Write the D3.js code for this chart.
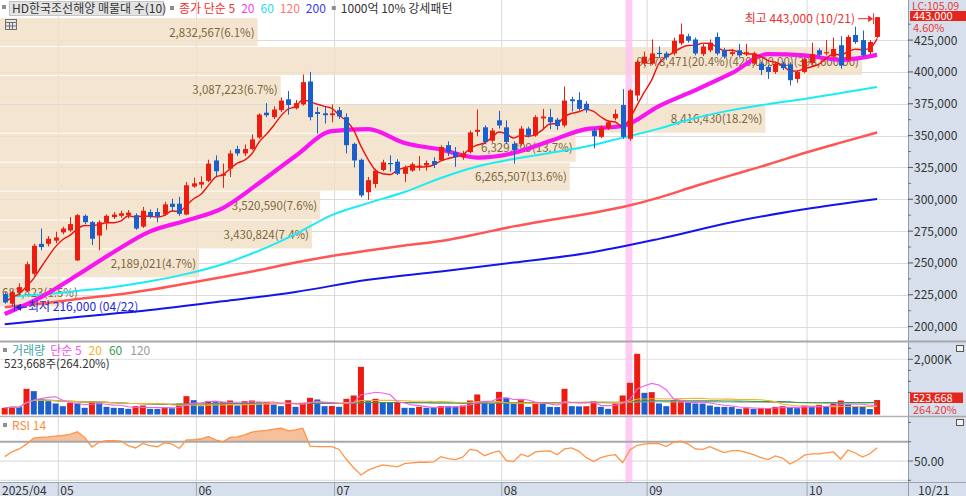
<!DOCTYPE html>
<html>
<head>
<meta charset="utf-8">
<script src="https://cdnjs.cloudflare.com/ajax/libs/d3/7.8.5/d3.min.js"></script>
<style>
  body { margin: 0; background: #fff; }
  svg text { font-family: "Noto Sans CJK KR", "Noto Sans", sans-serif; }
</style>
</head>
<body>
<div class="chart"></div>
<script>
var svgWidth = 966;
var svgHeight = 496;
var axisLeft = 908;   // start of the right-hand value axis

// daily candles, 2025/04/21 .. 2025/10/21 (index 0..120)
var open = [225500,218000,227000,228000,241500,265000,265000,267500,274000,275500,
  252000,287000,282000,271500,282000,286000,287000,287500,287500,278500,
  290000,290000,288000,296500,296500,288000,310000,311500,314500,330500,
  318500,324000,339500,336000,339500,348500,368000,364500,370000,378500,
  371500,374500,392500,368500,367500,366000,370000,364500,343500,331000,
  305500,312000,323000,328500,329500,320000,322500,325000,326500,330000,
  330500,342500,337000,333000,337000,353000,356500,346000,362000,356500,
  343500,343500,355500,350000,363500,364500,362500,358000,378500,378000,
  375000,354000,349000,355500,363500,374000,347500,381500,406500,406500,
  415000,414500,414500,422500,428000,425500,414000,417000,427500,417000,
  414000,417000,414000,406500,406500,404000,400000,406500,406000,394500,
  400000,407000,417000,414500,412000,421000,409500,429000,425000,415500,
  427500];
var high = [227000,228500,234000,251000,265000,277000,271000,274500,278500,286000,
  288500,288000,283000,283500,288000,290000,291000,291500,289000,294000,
  292000,293000,298000,300500,302000,313500,317000,318000,331000,334500,
  328000,338500,342000,343000,351000,367500,375500,373000,380000,385000,
  378000,398000,400000,372500,372500,374500,372500,367500,344500,332000,
  317500,324000,331000,334500,331500,326500,329000,334000,330500,333000,
  342500,345500,341000,338000,354000,370500,358000,356000,369500,362000,
  345500,357500,357000,366000,371000,371000,364000,388500,380500,384000,
  377000,356000,358000,362000,370500,386500,386500,409500,416000,425500,
  420000,416000,427000,438000,430000,427000,422000,425500,431000,419000,
  418000,422000,422000,416000,408000,405500,408000,408000,407500,401500,
  411500,423000,418500,425000,427000,428000,429000,435500,432500,425000,
  443000];
var low = [218000,216000,224500,227000,240000,260000,263000,265500,272500,274500,
  251500,280500,264000,260000,276000,284500,285500,285000,276000,277500,
  285000,282000,287000,290500,287000,287500,309000,308500,313500,318000,
  309000,317500,334000,334000,338500,347500,364500,363000,368500,366500,
  370500,373500,362000,351500,359500,360500,363000,336000,325000,301500,
  299500,309000,322000,321500,319000,313500,321500,322500,322500,324500,
  330000,334000,325500,331000,336000,349500,343500,344500,355500,343500,
  328000,342000,348500,349000,356000,355000,354500,356500,369000,369500,
  368000,340000,348000,354500,362000,347500,346000,377000,405000,405500,
  411000,409500,413000,421000,423000,413000,412500,415500,413000,410500,
  412500,411500,412500,405500,397500,394500,398500,401500,389500,391500,
  399000,405500,411500,413000,410500,402500,408000,422000,412000,414000,
  426500];
var close = [219000,227000,231000,249000,263500,262500,269000,270000,277000,280500,
  287500,282000,269000,282000,287000,288000,289000,289500,277000,291000,
  286500,286500,296000,294000,288500,311000,312500,313500,328000,322000,
  320000,336000,336000,339500,347000,366500,366000,370500,377500,374000,
  375500,392000,364500,367000,366000,367500,365000,342500,330500,303000,
  315000,322500,329000,327500,320000,325000,327500,326500,328500,327000,
  341000,337000,333000,336000,352500,354500,345000,354000,358000,345000,
  338500,355500,350000,364500,365000,360500,357500,377500,377000,371000,
  370000,349500,356500,360500,367000,349000,385500,408000,412000,414500,
  414000,411500,424500,429500,424500,414500,420000,423000,414500,412000,
  415500,413000,415500,414500,401500,400000,406500,403000,393500,400000,
  410000,414000,413500,415500,418000,405000,427500,423500,413000,423500,
  443000];
var volume = [242000,278000,270000,930000,846000,568000,483000,399000,302000,423000,
  399000,242000,483000,447000,278000,242000,235000,205000,302000,326000,
  205000,200000,242000,229000,399000,664000,519000,302000,483000,447000,
  460000,507000,326000,483000,507000,447000,455000,362000,302000,519000,
  278000,423000,604000,544000,302000,310000,278000,568000,689000,1727000,
  483000,568000,423000,420000,425000,242000,240000,278000,242000,240000,
  302000,300000,295000,326000,507000,725000,483000,399000,820000,604000,
  399000,519000,278000,447000,399000,278000,270000,930000,302000,295000,
  300000,483000,278000,205000,399000,689000,1148000,2199000,785000,810000,
  399000,302000,519000,525000,447000,399000,395000,326000,278000,275000,
  270000,205000,229000,205000,229000,232000,278000,302000,242000,229000,
  326000,278000,350000,278000,399000,507000,362000,302000,298000,198209,
  523668];
var rsi14 = [54.5,59.5,62.5,67.5,73.8,74.5,75,75.8,76.5,77.5,
  80.4,74.5,64.5,69.5,71,71,70.7,66,63.5,68.3,
  66,64.8,69,67.6,63,71.8,72,72.8,75.5,72,
  70,74.5,75,77,80,81,81.8,83,83.9,81.3,
  82.3,84,65.5,65,64.8,64.8,62,51.5,43,35.5,
  40.5,43.5,46,45,44,47.2,48,48.7,48.7,49,
  54.5,52.5,51.5,54,62,60.7,55.5,58.5,60.5,50.3,
  49.3,57,54.5,59.4,60.3,60.5,56.5,62.5,63.5,60,
  53.5,49.5,53.5,55.5,56.5,48.2,61.4,66.3,67.5,68.3,
  68,65,69.5,70.5,67.5,62.5,62,64.8,61.5,58.8,
  60.7,60.7,59,56.5,53.5,51.5,55.2,53,46.9,50.5,
  56,57.3,57.3,58.5,59.4,51.8,61.4,58.3,54,57.5,
  63.8];

// longer moving averages, read every 5 (20, 60, 120) or 10 (200) bars
var ma20 = [209900,223200,240500,258600,274800,283300,293100,312800,334000,353500,
  355100,344200,339000,332700,336300,345700,355100,357500,373200,385700,
  399000,414000,413000,409500,413400];
var ma60 = [223400,225200,228000,231100,235600,241400,249000,259700,272700,287600,
  297000,305700,316700,325700,331600,336300,341400,348400,355500,363800,
  370000,374700,378700,383400,388100];
var ma120 = [215200,218100,221700,224800,228900,233800,238900,244400,250300,255400,
  259700,263700,267200,272700,278700,283700,288400,293900,301300,310400,
  319000,327300,336300,344500,352400];
var ma200 = [201800,207500,213000,219900,227200,236800,243300,250300,257600,268900,
  282000,292100,300200];

// volume profile (매물대), top band first
var bandVolume = [2832567,9478471,3087223,8416430,6329899,6265507,3520590,3430824,2189021,683423];
var bandPct = ["6.1","20.4","6.7","18.2","13.7","13.6","7.6","7.4","4.7","1.5"];
var bandRange = "(420,000.00)(398,600.00)";

var monthStart = [0, 8, 27, 46, 69, 89, 111];
var monthLabel = ["2025/04", "05", "06", "07", "08", "09", "10"];
var priceTicks = [200000,225000,250000,275000,300000,325000,350000,375000,400000,425000];
var highlightBar = 86;

var upColor = "#ec1c10", downColor = "#1a5fcc";

var svg = d3.select(".chart")
  .append("svg")
  .attr("width", svgWidth)
  .attr("height", svgHeight);

var x = d3.scaleLinear().domain([0, 120]).range([4.7, 877.1]);
var y = d3.scaleLinear().domain([200000, 425000]).range([326.6, 40.1]);
var yVol = d3.scaleLinear().domain([0, 2000000]).range([414.5, 359.3]);
var yRsi = d3.scaleLinear().domain([30, 70]).range([480.3, 441.7]);

// ---------- grid ----------
var grid = svg.append("g");
monthStart.slice(1).forEach(function(m) {
  grid.append("line")
    .attr("x1", x(m - 0.63)).attr("x2", x(m - 0.63))
    .attr("y1", 0).attr("y2", 482)
    .attr("stroke", "#d9d9d9");
});
priceTicks.forEach(function(t) {
  grid.append("line")
    .attr("x1", 0).attr("x2", axisLeft)
    .attr("y1", Math.round(y(t)) + 0.5).attr("y2", Math.round(y(t)) + 0.5)
    .attr("stroke", "#dadada");
});
grid.append("line").attr("x1", 0).attr("x2", axisLeft).attr("y1", yVol(2000000)).attr("y2", yVol(2000000)).attr("stroke", "#e2e2e2");
[50, 30].forEach(function(v) {
  grid.append("line").attr("x1", 0).attr("x2", axisLeft).attr("y1", yRsi(v)).attr("y2", yRsi(v)).attr("stroke", "#d6d6d6");
});

// ---------- volume profile bands ----------
var pLow = d3.min(low), pHigh = d3.max(high);
var bandStep = (pHigh - pLow) / bandVolume.length;
var bandW = d3.scaleLinear().domain([0, d3.max(bandVolume)]).range([0, 862]);
var bands = svg.append("g");
bandVolume.forEach(function(v, k) {
  var top = y(pHigh - k * bandStep), bot = y(pHigh - (k + 1) * bandStep);
  bands.append("rect")
    .attr("x", 0).attr("y", top + 1)
    .attr("width", bandW(v)).attr("height", bot - top - 1)
    .attr("fill", "#f1dfc6").attr("opacity", 0.82);
});
bandVolume.forEach(function(v, k) {
  var top = y(pHigh - k * bandStep), bot = y(pHigh - (k + 1) * bandStep);
  var label = d3.format(",")(v) + "(" + bandPct[k] + "%)";
  if (v === d3.max(bandVolume)) label += bandRange;
  var t = bands.append("text")
    .attr("y", (top + bot) / 2 + 5)
    .attr("fill", "#7e673f")
    .style("font-size", "11.5px")
    .text(label);
  var len = t.node().getComputedTextLength();
  if (len + 5 > bandW(v)) t.attr("x", 2);
  else t.attr("x", bandW(v) - 3).attr("text-anchor", "end");
});

// highlighted day
svg.append("rect")
  .attr("x", x(highlightBar) - 4.5).attr("y", 0)
  .attr("width", 7).attr("height", 482)
  .attr("fill", "#ffc4f2").attr("opacity", 0.85);

// ---------- moving averages ----------
var ma5 = close.map(function(c, i) { return d3.mean(close.slice(Math.max(0, i - 4), i + 1)); });
var line = d3.line().x(function(d) { return x(d[0]); }).y(function(d) { return y(d[1]); }).curve(d3.curveMonotoneX);
function pts(arr, step) { return arr.map(function(v, k) { return [k * step, v]; }); }

var maG = svg.append("g").attr("fill", "none").attr("stroke-linejoin", "round");
maG.append("path").attr("d", line(pts(ma200, 10))).attr("stroke", "#1414f0").attr("stroke-width", 2);
maG.append("path").attr("d", line(pts(ma120, 5))).attr("stroke", "#ff5555").attr("stroke-width", 2.5);
maG.append("path").attr("d", line(pts(ma60, 5))).attr("stroke", "#19ecf5").attr("stroke-width", 2);
maG.append("path").attr("d", line(pts(ma20, 5))).attr("stroke", "#f716f0").attr("stroke-width", 4.2);
maG.append("path").attr("d", line(pts(ma5, 1))).attr("stroke", "#f01010").attr("stroke-width", 1.4);

// ---------- candles ----------
var candles = svg.append("g").selectAll("g")
  .data(close)
  .enter()
  .append("g");
candles.append("line")
  .attr("x1", function(d, i) { return Math.round(x(i)) + 0.5; })
  .attr("x2", function(d, i) { return Math.round(x(i)) + 0.5; })
  .attr("y1", function(d, i) { return y(high[i]); })
  .attr("y2", function(d, i) { return y(low[i]); })
  .attr("stroke", function(d, i) { return d >= open[i] ? upColor : downColor; });
candles.append("rect")
  .attr("x", function(d, i) { return Math.round(x(i)) - 2; })
  .attr("y", function(d, i) { return y(Math.max(d, open[i])); })
  .attr("width", 5)
  .attr("height", function(d, i) { return Math.max(1, Math.abs(y(d) - y(open[i]))); })
  .attr("fill", function(d, i) { return d >= open[i] ? upColor : downColor; });

// high / low notes
var last = close.length - 1;
var hiIdx = high.indexOf(pHigh), loIdx = low.indexOf(pLow);
var ann = svg.append("g").style("font-size", "12px");
ann.append("text").attr("x", 855).attr("y", y(pHigh) + 6).attr("text-anchor", "end").attr("fill", "#ec3030")
  .text("최고 " + d3.format(",")(pHigh) + " (10/21)");
ann.append("line").attr("x1", 858).attr("x2", x(hiIdx) - 7).attr("y1", y(pHigh) + 1.5).attr("y2", y(pHigh) + 1.5).attr("stroke", "#ec3030");
ann.append("path").attr("d", "M" + (x(hiIdx) - 4) + "," + (y(pHigh) + 1.5) + "l-5,-3.5v7z").attr("fill", "#ec3030");
ann.append("line").attr("x1", x(hiIdx) - 3.5).attr("x2", x(hiIdx) - 3.5).attr("y1", y(pHigh) - 4).attr("y2", y(pHigh) + 7).attr("stroke", "#ec3030");
var lowY = y(pLow) + 1;
ann.append("line").attr("x1", x(loIdx) + 2.5).attr("x2", x(loIdx) + 2.5).attr("y1", lowY - 4).attr("y2", lowY + 4).attr("stroke", "#1d2bd6");
ann.append("path").attr("d", "M" + (x(loIdx) + 3) + "," + lowY + "l6,-3.5v7z").attr("fill", "#1d2bd6");
ann.append("line").attr("x1", x(loIdx) + 8).attr("x2", x(loIdx) + 15).attr("y1", lowY).attr("y2", lowY).attr("stroke", "#1d2bd6");
ann.append("text").attr("x", 28).attr("y", lowY + 4).attr("fill", "#1d2bd6")
  .text("최저 " + d3.format(",")(pLow) + " (04/22)");

// ---------- volume ----------
svg.append("g").selectAll("rect")
  .data(volume)
  .enter()
  .append("rect")
  .attr("x", function(d, i) { return x(i) - 3; })
  .attr("y", function(d) { return yVol(d); })
  .attr("width", 6)
  .attr("height", function(d) { return yVol(0) - yVol(d); })
  .attr("fill", function(d, i) { return i === 0 || d > volume[i - 1] ? upColor : downColor; });

function sma(arr, n) {
  return arr.map(function(v, i) { return d3.mean(arr.slice(Math.max(0, i - n + 1), i + 1)); });
}
var vline = d3.line().x(function(d, i) { return x(i); }).y(function(d) { return yVol(d); });
[[120, "#a8a8a8"], [60, "#3a9a55"], [20, "#f2b32a"], [5, "#ef5fef"]].forEach(function(m) {
  svg.append("path").attr("d", vline(sma(volume, m[0])))
    .attr("fill", "none").attr("stroke", m[1]).attr("stroke-width", 1.1);
});

// ---------- RSI ----------
svg.append("clipPath").attr("id", "rsiTop")
  .append("rect").attr("x", 0).attr("y", 417).attr("width", axisLeft).attr("height", yRsi(70) - 417);
svg.append("path")
  .attr("d", d3.area().x(function(d, i) { return x(i); }).y0(yRsi(70)).y1(function(d) { return yRsi(d); })(rsi14))
  .attr("fill", "#f6c09c").attr("clip-path", "url(#rsiTop)");
svg.append("line").attr("x1", 0).attr("x2", axisLeft).attr("y1", yRsi(70)).attr("y2", yRsi(70))
  .attr("stroke", "#a9a9a9").attr("stroke-width", 2);
svg.append("path")
  .attr("d", d3.line().x(function(d, i) { return x(i); }).y(function(d) { return yRsi(d); })(rsi14))
  .attr("fill", "none").attr("stroke", "#ff9347").attr("stroke-width", 1.3);

// panel separators
svg.append("line").attr("x1", 0).attr("x2", svgWidth).attr("y1", 341.5).attr("y2", 341.5).attr("stroke", "#a8a8a8").attr("stroke-width", 2);
svg.append("line").attr("x1", 0).attr("x2", svgWidth).attr("y1", 416.5).attr("y2", 416.5).attr("stroke", "#b4b4b4").attr("stroke-width", 1.5);

// ---------- legends ----------
function legend(items, x0, yb) {
  var cx = x0;
  items.forEach(function(it) {
    if (it.box) {
      svg.append("rect").attr("x", cx).attr("y", yb - 7).attr("width", 4).attr("height", 4).attr("fill", "#8e8e8e");
      cx += 9;
      return;
    }
    var t = svg.append("text").attr("x", cx).attr("y", yb).attr("fill", it.c).style("font-size", "12px").text(it.t);
    cx += t.node().getComputedTextLength() + (it.gap === undefined ? 6 : it.gap);
  });
}
svg.append("rect").attr("x", 2).attr("y", 5).attr("width", 4).attr("height", 4).attr("fill", "#8e8e8e");
svg.append("rect").attr("x", 9.5).attr("y", 1.5).attr("width", 154).attr("height", 14)
  .attr("fill", "#e4e4e4").attr("stroke", "#c4c4c4");
svg.append("text").attr("x", 12).attr("y", 13).attr("fill", "#333").style("font-size", "12px").text("HD한국조선해양 매물대 수(10)");
legend([{box: true}, {t: "종가 단순 5", c: "#f03030"}, {t: "20", c: "#f040f0"}, {t: "60", c: "#2bd7f0"},
  {t: "120", c: "#ff7777"}, {t: "200", c: "#3a3af0"}, {box: true}, {t: "1000억 10% 강세패턴", c: "#333"}], 170, 13);
// small table icon
var icon = svg.append("g").attr("fill", "none").attr("stroke", "#6f6f6f");
icon.append("rect").attr("x", 5.5).attr("y", 19.5).attr("width", 11).attr("height", 10).attr("fill", "#e6e6e6");
icon.append("path").attr("d", "M5.5,22.5h11M9.5,22.5v7M12.5,22.5v7M5.5,26h11");

legend([{box: true}, {t: "거래량", c: "#3ea7a5", gap: 5}, {t: "단순 5", c: "#ee55ee", gap: 7}, {t: "20", c: "#f2b32a", gap: 7},
  {t: "60", c: "#3a9a55", gap: 8}, {t: "120", c: "#9a9a9a"}], 3, 355);
svg.append("text").attr("x", 4).attr("y", 368).attr("fill", "#333").style("font-size", "11.5px")
  .text(d3.format(",")(volume[last]) + "주(" + d3.format(".2f")(volume[last] / volume[last - 1] * 100) + "%)");
legend([{box: true}, {t: "RSI 14", c: "#ff8a3c"}], 3, 430);

// ---------- right axis ----------
var ax = svg.append("g").style("font-size", "12px");
ax.append("rect").attr("x", axisLeft).attr("y", 0).attr("width", svgWidth - axisLeft).attr("height", svgHeight)
  .attr("fill", "#d6dfeb");
ax.append("line").attr("x1", axisLeft + 0.5).attr("x2", axisLeft + 0.5).attr("y1", 0).attr("y2", svgHeight).attr("stroke", "#8e9bb0");
ax.append("line").attr("x1", axisLeft).attr("x2", svgWidth).attr("y1", 341.5).attr("y2", 341.5).attr("stroke", "#a8a8a8").attr("stroke-width", 2);
ax.append("line").attr("x1", axisLeft).attr("x2", svgWidth).attr("y1", 416.5).attr("y2", 416.5).attr("stroke", "#a8a8a8").attr("stroke-width", 1.5);
priceTicks.forEach(function(t) {
  ax.append("line").attr("x1", axisLeft).attr("x2", axisLeft + 5).attr("y1", y(t)).attr("y2", y(t)).attr("stroke", "#555");
  ax.append("line").attr("x1", axisLeft).attr("x2", axisLeft + 3).attr("y1", y(t + 12500)).attr("y2", y(t + 12500)).attr("stroke", "#777");
  ax.append("text").attr("x", 914).attr("y", y(t) + 4.5).attr("fill", "#333").text(d3.format(",")(t));
});
ax.append("text").attr("x", 912).attr("y", 9.5).attr("fill", "#e53b3b").style("font-size", "10.5px").text("LC:105.09");
ax.append("rect").attr("x", 910).attr("y", 11).attr("width", 56).attr("height", 10).attr("fill", "#e5261c");
ax.append("text").attr("x", 913).attr("y", 20).attr("fill", "#fff").style("font-size", "11px").text(d3.format(",")(close[last]));
ax.append("text").attr("x", 913).attr("y", 31.5).attr("fill", "#e53b3b").style("font-size", "11px")
  .text(d3.format(".2f")((close[last] / close[last - 1] - 1) * 100) + "%");

[800000, 1200000, 1600000, 2000000, 2400000].forEach(function(v) {
  ax.append("line").attr("x1", axisLeft).attr("x2", axisLeft + (v === 2000000 ? 5 : 3)).attr("y1", yVol(v)).attr("y2", yVol(v)).attr("stroke", "#666");
});
ax.append("text").attr("x", 914).attr("y", yVol(2000000) + 4.5).attr("fill", "#333").text("2,000K");
ax.append("rect").attr("x", 910).attr("y", 392.5).attr("width", 53).attr("height", 10.5).attr("fill", "#e5261c");
ax.append("text").attr("x", 913).attr("y", 401.5).attr("fill", "#fff").style("font-size", "11px").text(d3.format(",")(volume[last]));
ax.append("text").attr("x", 913).attr("y", 413.5).attr("fill", "#e53b3b").style("font-size", "11px")
  .text(d3.format(".2f")(volume[last] / volume[last - 1] * 100) + "%");

[90, 70, 50, 30].forEach(function(v) {
  ax.append("line").attr("x1", axisLeft).attr("x2", axisLeft + (v === 50 ? 5 : 3)).attr("y1", yRsi(v)).attr("y2", yRsi(v)).attr("stroke", "#666");
});
ax.append("text").attr("x", 914).attr("y", yRsi(50) + 4.5).attr("fill", "#333").text("50.00");
[345, 419].forEach(function(yy) {
  ax.append("rect").attr("x", 956.5).attr("y", yy + 0.5).attr("width", 7).attr("height", 6).attr("fill", "#f2f2f2").attr("stroke", "#555");
});

// ---------- date axis ----------
var dx = svg.append("g").style("font-size", "12px");
dx.append("rect").attr("x", 0).attr("y", 482).attr("width", svgWidth).attr("height", 14).attr("fill", "#d6dfeb");
dx.append("line").attr("x1", 0).attr("x2", svgWidth).attr("y1", 482.5).attr("y2", 482.5).attr("stroke", "#9aa6b8");
dx.append("line").attr("x1", axisLeft + 0.5).attr("x2", axisLeft + 0.5).attr("y1", 482).attr("y2", svgHeight).attr("stroke", "#8e9bb0");
monthStart.forEach(function(m, k) {
  var gx = k === 0 ? 0 : x(m - 0.63);
  if (k > 0) dx.append("line").attr("x1", gx).attr("x2", gx).attr("y1", 482).attr("y2", 496).attr("stroke", "#9aa6b8");
  dx.append("text").attr("x", gx + 2).attr("y", 494.5).attr("fill", "#333").text(monthLabel[k]);
});
dx.append("text").attr("x", 918).attr("y", 494.5).attr("fill", "#333").text("10/21");
</script>
</body>
</html>
